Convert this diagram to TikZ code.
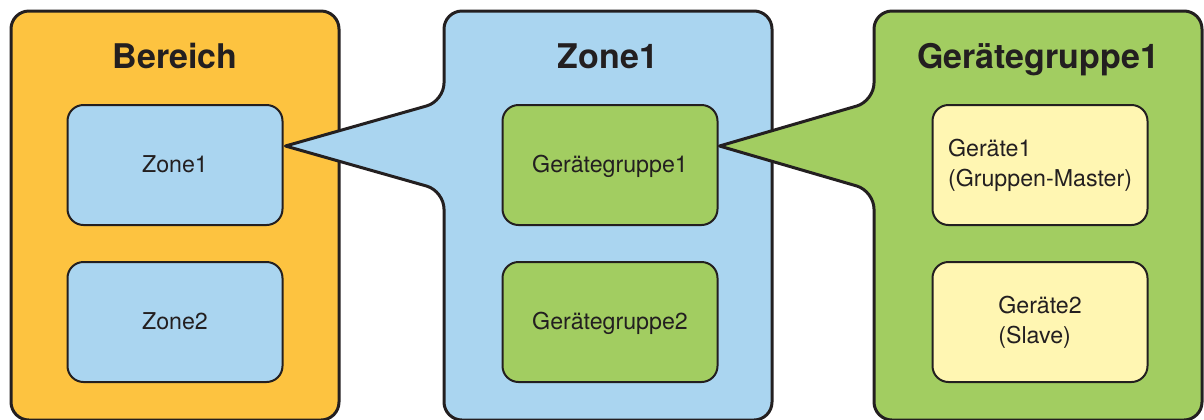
\documentclass[tikz,border=0pt]{standalone}
\usepackage{fontspec}
\setmainfont{TeX Gyre Heros}
\usetikzlibrary{positioning,calc}
\definecolor{bereichorange}{RGB}{253,195,64}
\definecolor{zoneblue}{RGB}{170,213,240}
\definecolor{gruppegreen}{RGB}{162,205,97}
\definecolor{geraetyellow}{RGB}{255,246,178}
\definecolor{inkline}{RGB}{35,31,32}
\tikzset{
  every picture/.append style={line join=round, line cap=round},
  panel/.style={draw=inkline, line width=1.5pt, rounded corners=9pt},
  panelpos/.style={rectangle, minimum width=164pt, minimum height=204.5pt, inner sep=0pt, outer sep=0pt},
  title/.style={font=\fontsize{17}{20}\selectfont\bfseries, text=inkline, anchor=base},
  item/.style={rectangle, draw=inkline, line width=1pt, rounded corners=8pt, minimum width=107.5pt, minimum height=60pt, inner sep=0pt, outer sep=0pt, align=left, font=\fontsize{11.6}{15}\selectfont, text=inkline},
  oneline/.style={text height=0.95em, text depth=0.234em}
}

\begin{document}
\begin{tikzpicture}[x=0.5pt, y=-0.5pt]
\useasboundingbox (0,0) rectangle (1204,419);
\clip (0,0) rectangle (1204,419);

% Bereich
\node[panelpos] (bereich) at (175,215.5) {};
\draw[panel, fill=bereichorange] (bereich.north west) rectangle (bereich.south east);
\node[title] at ($(bereich.north)+(0,57)$) {Bereich};
\node[item, oneline, fill=zoneblue] (zoneA) at (175,165) {Zone1};
\node[item, oneline, fill=zoneblue, below=18.5pt of zoneA] (zoneB) {Zone2};

% Zone1
\node[panelpos] (zone) at (608,215.5) {};
\coordinate (zonetip) at ($(zoneA.east)+(3,-19)$);
\draw[panel, fill=zoneblue] (zonetip) -- ($(zone.west |- zonetip)+(0,-45)$)
  -- (zone.north west) -- (zone.north east) -- (zone.south east) -- (zone.south west)
  -- ($(zone.west |- zonetip)+(0,45)$) -- (zonetip);
\node[title] at ($(zone.north)+(0,57)$) {Zone1};
\node[item, oneline, fill=gruppegreen] (gruppeA) at (610,165) {Gerätegruppe1};
\node[item, oneline, fill=gruppegreen, below=18.5pt of gruppeA] (gruppeB) {Gerätegruppe2};

% Geraetegruppe1
\node[panelpos] (gruppe) at (1038,215.5) {};
\coordinate (gruppetip) at ($(gruppeA.east)+(2,-19)$);
\draw[panel, fill=gruppegreen] (gruppetip) -- ($(gruppe.west |- gruppetip)+(0,-45)$)
  -- (gruppe.north west) -- (gruppe.north east) -- (gruppe.south east) -- (gruppe.south west)
  -- ($(gruppe.west |- gruppetip)+(0,45)$) -- (gruppetip);
\node[title] at ($(gruppe.north)+(0,57)$) {Gerätegruppe1};
\node[item, fill=geraetyellow] (geraetA) at (1040,165) {Geräte1\\(Gruppen-Master)};
\node[item, fill=geraetyellow, below=18.5pt of geraetA] (geraetB) {Geräte2\\(Slave)};
\end{tikzpicture}
\end{document}
